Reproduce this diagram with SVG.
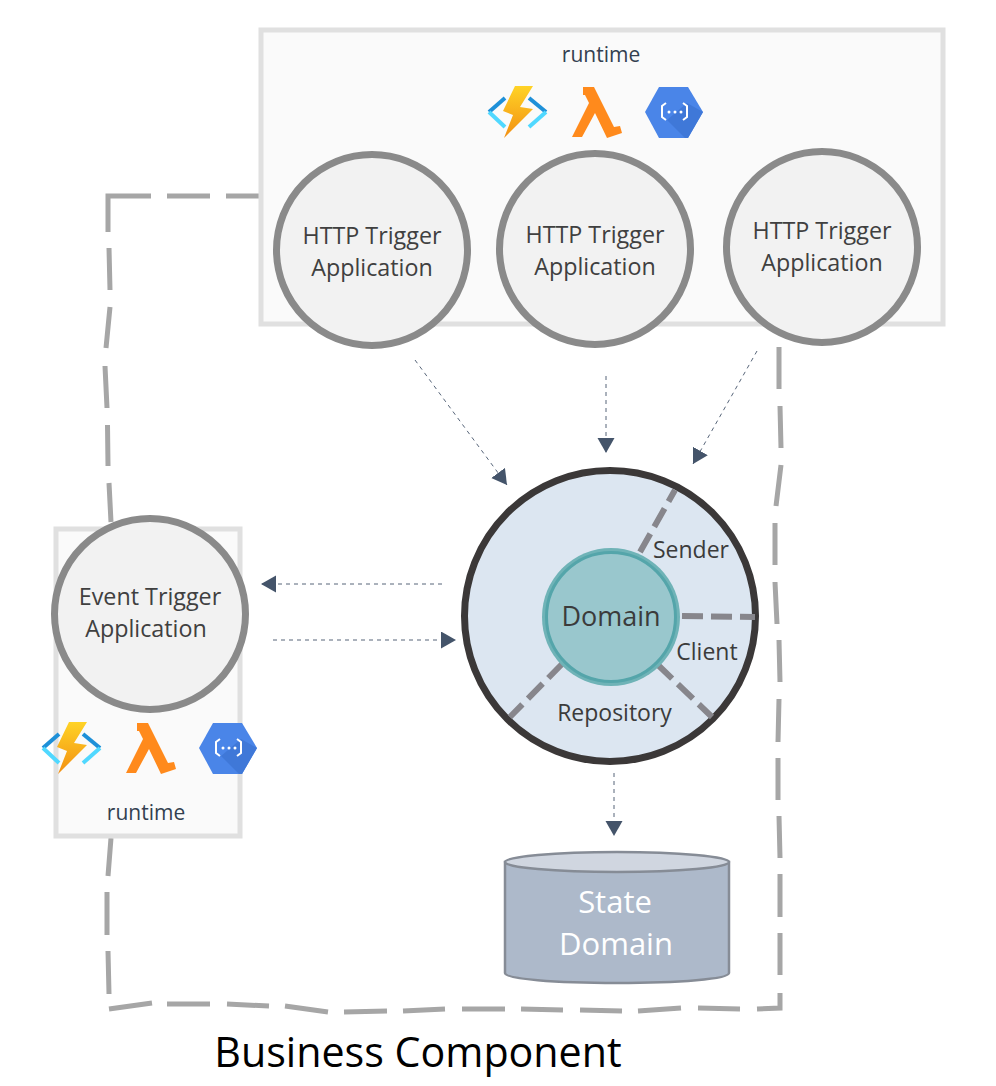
<svg xmlns="http://www.w3.org/2000/svg" xmlns:xlink="http://www.w3.org/1999/xlink" width="996" height="1086" viewBox="0 0 996 1086">
<style>
text{font-family:"Open Sans","Noto Sans","Liberation Sans",sans-serif;text-anchor:middle}
.runtime{fill:#fafafa;stroke:#e0e0e0;stroke-width:5}
.app{fill:#f2f2f2;stroke:#8a8a8a;stroke-width:7}
.appt{font-size:23.300px;fill:#404040}
.rt{font-size:21px;fill:#333f50}
.outline{fill:none;stroke:#a6a6a6;stroke-width:5}
.flow{fill:none;stroke:#44546a;stroke-width:.9;stroke-dasharray:4 4;marker-end:url(#arrow)}
.port{fill:none;stroke:#87868c;stroke-width:6;stroke-dasharray:21 8}
.lbl{font-size:23px;fill:#3b3b3b}
</style>
<defs>
<marker id="arrow" markerUnits="userSpaceOnUse" markerWidth="17" markerHeight="18" refX="15" refY="8.5" orient="auto"><path d="M0 0L15 8.5L0 17Z" fill="#44546a"/></marker>
<linearGradient id="bolt" x1="0" y1="0" x2="0" y2="1"><stop offset="0" stop-color="#ffd326"/><stop offset="1" stop-color="#f28f12"/></linearGradient>
<g id="icons">
<path d="M505 98L489 112" fill="none" stroke="#1e90d8" stroke-width="4"/>
<path d="M489 112L505 127" fill="none" stroke="#50d8ff" stroke-width="4"/>
<path d="M529 98L546 112" fill="none" stroke="#1e90d8" stroke-width="4"/>
<path d="M546 112L529 127" fill="none" stroke="#50d8ff" stroke-width="4"/>
<path d="M515 86H533L520 107L533 109L504 138L513 115L503 111Z" fill="url(#bolt)"/>
<path d="M583 87H594L614 127L620 126L622 133L607 138L595 113L582 137H572L589 103L585 95H583Z" fill="#ff8a1c"/>
<path d="M645 112L659 87H688L703 112L688 138H659Z" fill="#4a85e8"/>
<path d="M687 103L703 112L688 138H685L667 120Z" fill="#3f78d8"/>
<path d="M666 103L662 106V117L666 120M683 103L687 106V117L683 120" fill="none" stroke="#fff" stroke-width="2"/>
<circle cx="669" cy="112" r="1.500" fill="#fff"/><circle cx="675" cy="112" r="1.500" fill="#fff"/><circle cx="681" cy="112" r="1.500" fill="#fff"/>
</g>
</defs>
<rect width="996" height="1086" fill="#fff"/>
<g id="connectors">
<path class="outline" d="M260 196H226M210 196H167M151 196H108V232M109 248L110 290M110 307L106 348M105 366L107 408M107.500 425L108 466M109 483L111 522"/>
<path class="outline" d="M111 838L108 876M107 892V935M108 951L109 994M109 1009L152 1003M167 1004H210M227 1004L269 1006M285 1006L328 1012M344 1012L387 1011M403 1011L445 1009M462 1009H505M521 1009L563 1010M580 1010L622 1011M638 1011L681 1008M698 1008L740 1009M757 1009L780 1008V993M780 975V933M780 917V874M780 858L779 816M778 800L778 758M778 742L779 699M780 682L779 640M777 624L775 582M775 565V523M776 506L781 465M781 448L780 406M779 389V347"/>
<path class="flow" d="M415 360L507 485"/>
<path class="flow" d="M606 376V453"/>
<path class="flow" d="M757 351L693 464"/>
<path class="flow" d="M442 584H261"/>
<path class="flow" d="M273 640H456"/>
<path class="flow" d="M614 773V836"/>
</g>
<g id="runtime-top"><rect class="runtime" x="261" y="30" width="682" height="294"/><text class="rt" x="601" y="62">runtime</text><use href="#icons"/></g>
<g id="runtime-left"><rect class="runtime" x="56" y="529" width="184" height="307"/><text class="rt" x="146" y="820">runtime</text><use href="#icons" transform="translate(-446 636)"/></g>
<g id="http1"><circle class="app" cx="372" cy="250" r="95.500"/><text class="appt" x="372" y="244">HTTP Trigger</text><text class="appt" x="372" y="276">Application</text></g>
<g id="http2"><circle class="app" cx="595" cy="249" r="95.500"/><text class="appt" x="595" y="243">HTTP Trigger</text><text class="appt" x="595" y="275">Application</text></g>
<g id="http3"><circle class="app" cx="822" cy="247" r="95.500"/><text class="appt" x="822" y="239">HTTP Trigger</text><text class="appt" x="822" y="271">Application</text></g>
<g id="event"><circle class="app" cx="150" cy="614" r="95.500"/><text class="appt" x="150" y="605">Event Trigger</text><text class="appt" x="146" y="637">Application</text></g>
<g id="hexagon">
<circle cx="610" cy="616" r="145.500" fill="#dce6f1" stroke="#3b3838" stroke-width="7"/>
<path class="port" d="M640 552L675 490"/>
<path class="port" d="M682 616L755 617"/>
<path class="port" d="M563 663L510 717"/>
<path class="port" d="M657 664L712 717"/>
<text class="lbl" x="691" y="558">Sender</text>
<text class="lbl" x="707" y="660">Client</text>
<text class="lbl" x="614.500" y="721">Repository</text>
</g>
<g id="domain"><circle cx="611" cy="617" r="69" fill="#6fb3b7"/><circle cx="611" cy="617" r="64.500" fill="#99c7cd" stroke="#54a5aa" stroke-width="3"/><text x="611" y="626" font-size="27" fill="#3b3b3b">Domain</text></g>
<g id="state">
<path d="M505 862V973C505 979 555 983 617 983S729 979 729 973V862Z" fill="#adb9ca" stroke="#868c96" stroke-width="2.500"/>
<ellipse cx="617" cy="862" rx="112" ry="10" fill="#d0d6e0" stroke="#868c96" stroke-width="2.500"/>
<text x="615" y="913" font-size="31" fill="#fff">State</text>
<text x="616" y="955" font-size="31" fill="#fff">Domain</text>
</g>
<text id="title" x="418" y="1067" font-size="41.200" fill="#000">Business Component</text>
</svg>
